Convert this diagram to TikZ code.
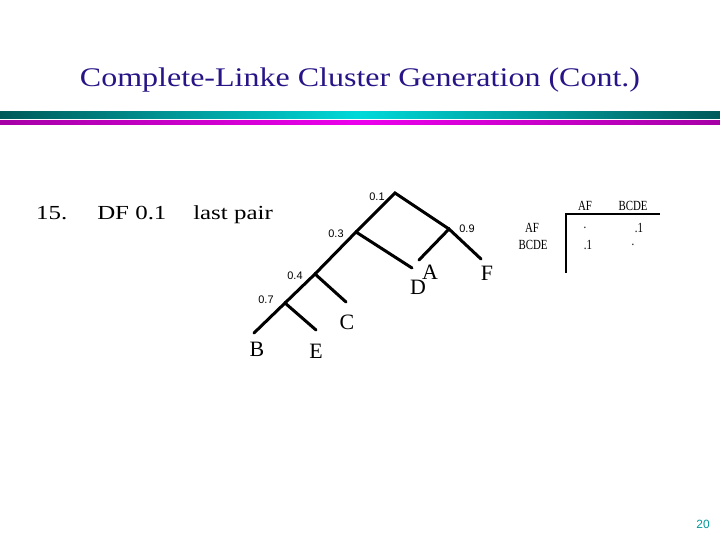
\documentclass[tikz,border=0pt]{standalone}
\usepackage{fontspec}
\setmainfont{Liberation Serif}
\newfontfamily\labfont{Liberation Sans}
\definecolor{titleblue}{RGB}{40,20,135}
\begin{document}
\begin{tikzpicture}[x=1bp,y=-1bp,
  branch/.style={line width=3bp,line cap=round},
  leaf/.style={font=\fontsize{22}{22}\selectfont,inner sep=0pt},
  lab/.style={font=\labfont\fontsize{11}{11}\selectfont,inner sep=0pt},
  body/.style={font=\fontsize{20}{20}\selectfont,inner sep=0pt,anchor=base west,xscale=1.25},
  mat/.style={font=\fontsize{14}{14}\selectfont,inner sep=0pt,xscale=0.78}]
\useasboundingbox (0,0) rectangle (720,540);
% title
\node[font=\fontsize{27}{27}\selectfont,text=titleblue,inner sep=0pt,xscale=1.19] (title) at (360,80) {Complete-Linke Cluster Generation (Cont.)};
% bands
\shade[left color=teal!70!black,right color=teal!70!black,middle color=cyan!70!teal] (0,112) rectangle (720,118.5);
\shade[left color=violet!70!magenta,right color=violet!70!magenta,middle color=magenta!85!violet] (0,121) rectangle (720,125);
% body text
\node[body] (n15) at (36,220) {15.};
\node[body] (df) at (97,220) {DF 0.1};
\node[body] (lp) at (193,220) {last pair};
% tree
\coordinate (r) at (395,193);
\coordinate (n3) at (356,232);
\coordinate (n9) at (449,229);
\coordinate (fE) at (481,259);
\coordinate (aE) at (419,260);
\coordinate (dE) at (412,268);
\coordinate (n4) at (315,274);
\coordinate (cE) at (346,302);
\coordinate (n7) at (285,303);
\coordinate (bE) at (254,333);
\coordinate (eE) at (316,330);
\draw[branch] (n3) -- (r) -- (n9);
\draw[branch] (aE) -- (n9) -- (fE);
\draw[branch] (n4) -- (n3) -- (dE);
\draw[branch] (n7) -- (n4) -- (cE);
\draw[branch] (bE) -- (n7) -- (eE);
\node[lab] (l1) at (377,197) {0.1};
\node[lab] (l9) at (467,229) {0.9};
\node[lab] (l3) at (336,234) {0.3};
\node[lab] (l4) at (295,276) {0.4};
\node[lab] (l7) at (266,300) {0.7};
\node[leaf] (A) at (430,272) {A};
\node[leaf] (F) at (487,273) {F};
\node[leaf] (D) at (418,287) {D};
\node[leaf] (C) at (347,322) {C};
\node[leaf] (B) at (257,349) {B};
\node[leaf] (E) at (316,351) {E};
% matrix
\node[mat] (hAF) at (585,206) {AF};
\node[mat] (hBCDE) at (633,206) {BCDE};
\node[mat] (rAF) at (532,228) {AF};
\node[mat] (rBCDE) at (533,245) {BCDE};
\node[mat] (m11) at (585,228) {.};
\node[mat] (m12) at (639,228) {.1};
\node[mat] (m21) at (588,245) {.1};
\node[mat] (m22) at (633,245) {.};
\coordinate (hl) at (566,214);
\coordinate (hr) at (660,214);
\coordinate (vb) at (566,273);
\draw[line width=1.5bp] (hr) -- (hl) -- (vb);
% page number
\node[font=\labfont\fontsize{12}{12}\selectfont,text=teal!80!cyan,inner sep=0pt] (pg) at (703,524) {20};
\end{tikzpicture}
\end{document}
